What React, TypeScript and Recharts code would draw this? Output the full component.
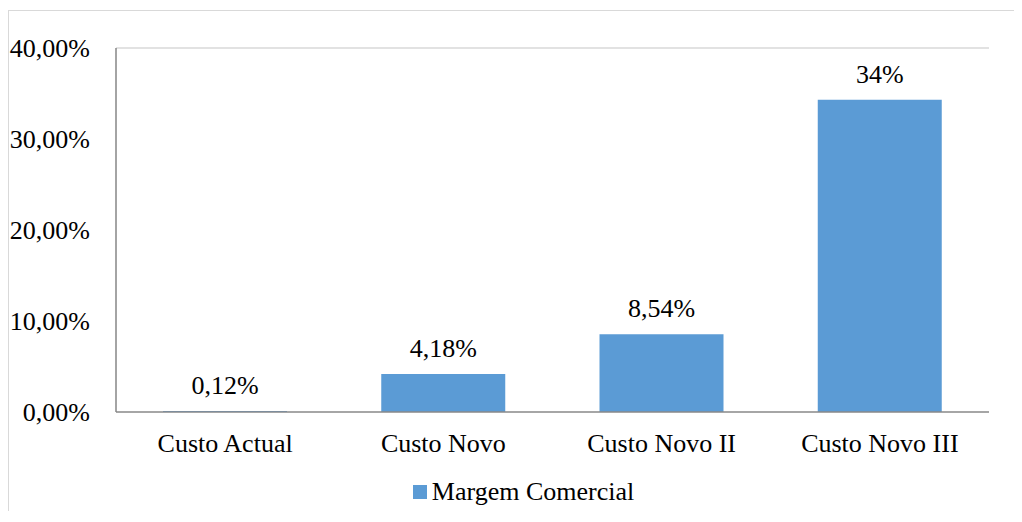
import React from "react";
import { Bar, BarChart, LabelList, Legend, ReferenceLine, XAxis, YAxis } from "recharts";

const categories = ["Custo Actual", "Custo Novo", "Custo Novo II", "Custo Novo III"];
const margemValues = [0.12, 4.18, 8.54, 34.3];
const margemLabels = ["0,12%", "4,18%", "8,54%", "34%"];
const yTicks = [0, 10, 20, 30, 40];
const yTickLabels = ["0,00%", "10,00%", "20,00%", "30,00%", "40,00%"];

const FONT = '"Liberation Serif", "Times New Roman", serif';
const BLUE = "#5b9bd5";

const data = categories.map((name, i) => ({
  name,
  margem: margemValues[i],
  label: margemLabels[i],
}));

function LegendContent() {
  return (
    <div
      style={{
        height: 39,
        width: "100%",
        boxSizing: "border-box",
        paddingLeft: 49,
        display: "flex",
        alignItems: "center",
        justifyContent: "center",
        fontFamily: FONT,
        fontSize: 26,
        color: "#000",
      }}
    >
      <span style={{ width: 14, height: 14, background: BLUE, marginRight: 5, display: "inline-block" }} />
      <span style={{ fontFamily: FONT }}>Margem Comercial</span>
    </div>
  );
}

// value label above each bar, drawn as plain svg text so the serif font sticks
function BarLabel(props: any) {
  const { x, y, width, value } = props;
  return (
    <text x={x + width / 2} y={y - 17} textAnchor="middle" fill="#000" style={{ fontFamily: FONT, fontSize: 26 }}>
      {value}
    </text>
  );
}

export default function App() {
  const tickStyle = { fill: "#000", fontFamily: FONT, fontSize: 26 };
  return (
    <div
      style={{
        marginTop: 2,
        width: 1005,
        height: 500,
        borderTop: "1px solid #d9d9d9",
        borderLeft: "1px solid #d9d9d9",
        background: "#fff",
        fontFamily: FONT,
      }}
    >
      <BarChart
        width={1005}
        height={500}
        data={data}
        margin={{ top: 37, right: 25, left: 0, bottom: 0 }}
        style={{ fontFamily: FONT }}
      >
        <XAxis
          dataKey="name"
          height={60}
          tickLine={false}
          tickSize={0}
          tickMargin={22}
          axisLine={{ stroke: "#898989", strokeWidth: 1.5 }}
          tick={tickStyle}
          interval={0}
        />
        <YAxis
          width={107}
          domain={[0, 40]}
          ticks={yTicks}
          tickFormatter={(v: number) => yTickLabels[yTicks.indexOf(v)]}
          tickLine={false}
          tickSize={0}
          tickMargin={26}
          axisLine={{ stroke: "#868686", strokeWidth: 1.5 }}
          tick={tickStyle}
          interval={0}
        />
        <YAxis yAxisId="right" orientation="right" width={0} domain={[0, 40]} tick={false} tickLine={false} axisLine={{ stroke: "#d9d9d9", strokeWidth: 1.5 }} />
        <ReferenceLine y={40} stroke="#d9d9d9" strokeWidth={1.5} />
        <Legend verticalAlign="bottom" height={39} content={() => <LegendContent />} />
        <Bar dataKey="margem" name="Margem Comercial" fill={BLUE} barSize={124} isAnimationActive={false}>
          <LabelList dataKey="label" position="top" content={BarLabel} />
        </Bar>
      </BarChart>
    </div>
  );
}
